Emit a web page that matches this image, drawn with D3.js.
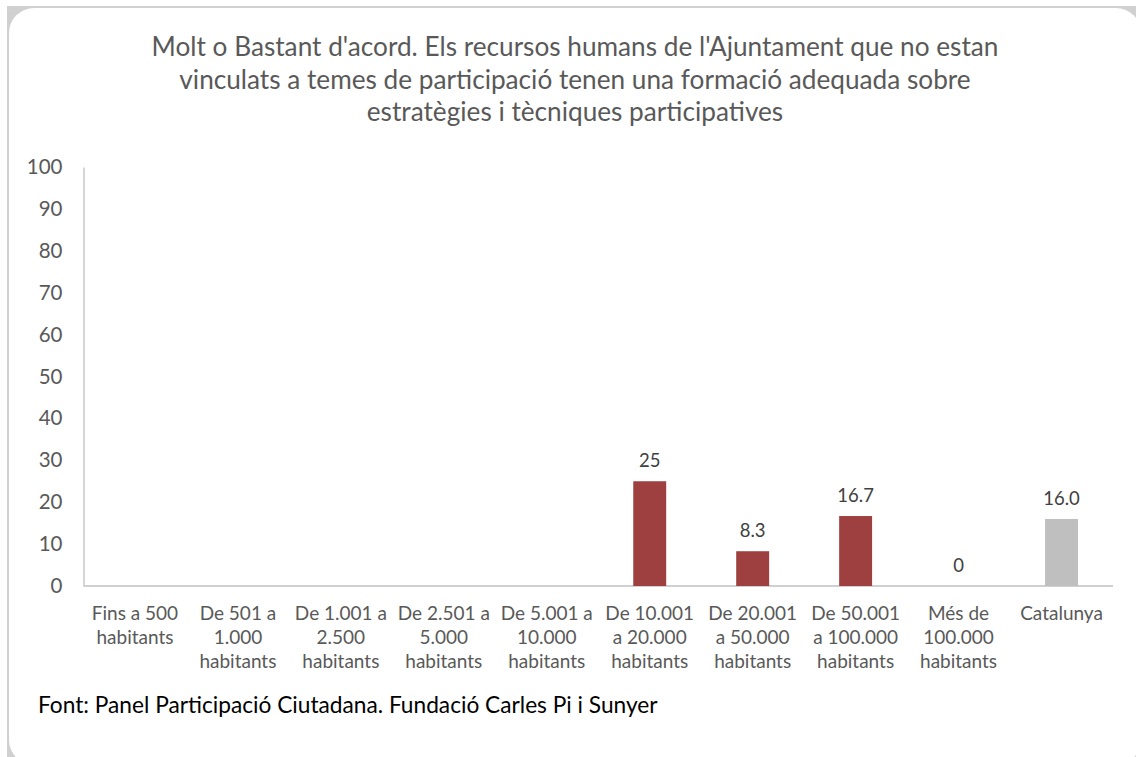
<!DOCTYPE html>
<html>
<head>
<meta charset="utf-8">
<script src="https://cdn.jsdelivr.net/npm/d3@7"></script>
<style>
  body { margin: 0; background: #fff; }
  svg { display: block; font-family: Lato, "Open Sans", sans-serif; }
</style>
</head>
<body>
<div id="chart"></div>
<script>
// data
const categories = [
  ['Fins a 500', 'habitants'],
  ['De 501 a', '1.000', 'habitants'],
  ['De 1.001 a', '2.500', 'habitants'],
  ['De 2.501 a', '5.000', 'habitants'],
  ['De 5.001 a', '10.000', 'habitants'],
  ['De 10.001', 'a 20.000', 'habitants'],
  ['De 20.001', 'a 50.000', 'habitants'],
  ['De 50.001', 'a 100.000', 'habitants'],
  ['Més de', '100.000', 'habitants'],
  ['Catalunya']
];
const values = [null, null, null, null, null, 25, 8.3, 16.7, 0, 16.0];
const valueLabels = ['', '', '', '', '', '25', '8.3', '16.7', '0', '16.0'];
const yTicks = [0, 10, 20, 30, 40, 50, 60, 70, 80, 90, 100];
const titleLines = [
  "Molt o Bastant d'acord. Els recursos humans de l'Ajuntament que no estan",
  "vinculats a temes de participació tenen una formació adequada sobre",
  "estratègies i tècniques participatives"
];
const source = 'Font: Panel Participació Ciutadana. Fundació Carles Pi i Sunyer';

const width = 1136, height = 757;
const plot = { left: 83.5, right: 1113, top: 167, bottom: 586 };

const svg = d3.select('#chart').append('svg')
  .attr('width', width)
  .attr('height', height);

// frame: grey corners, thin grey edge
svg.append('rect')
  .attr('x', 7).attr('y', 6)
  .attr('width', width - 7).attr('height', height - 6)
  .attr('fill', '#d0d0d0');
svg.append('rect')
  .attr('x', 9).attr('y', 8)
  .attr('width', 1132).attr('height', 757)
  .attr('rx', 25).attr('ry', 25)
  .attr('fill', '#fff');

// title
svg.append('text')
  .attr('text-anchor', 'middle')
  .attr('fill', '#595959')
  .style('font-size', '26.2px')
  .selectAll('tspan')
  .data(titleLines)
  .join('tspan')
  .attr('x', 575)
  .attr('y', (d, i) => 56 + i * 32.5)
  .text(d => d);

const x = d3.scaleBand()
  .domain(d3.range(categories.length))
  .range([plot.left, plot.right])
  .paddingInner(0.68)
  .paddingOuter(0.34);

const y = d3.scaleLinear()
  .domain([0, 100])
  .range([plot.bottom, plot.top]);

// y axis
const yAxis = svg.append('g')
  .attr('transform', `translate(${plot.left},0)`)
  .call(d3.axisLeft(y).tickValues(yTicks).tickSize(0).tickPadding(21));
yAxis.select('.domain').attr('stroke', '#c8c8c8').attr('stroke-width', 1.5);
yAxis.selectAll('text')
  .attr('fill', '#595959')
  .style('font-size', '20.5px')
  .style('font-family', 'Lato, sans-serif');

// x baseline
svg.append('line')
  .attr('x1', plot.left).attr('x2', plot.right)
  .attr('y1', y(0)).attr('y2', y(0))
  .attr('stroke', '#d0d0d0')
  .attr('stroke-width', 2);

// bars
const data = values.map((v, i) => ({ i, v, label: valueLabels[i] }));
svg.append('g').selectAll('rect')
  .data(data.filter(d => d.v !== null))
  .join('rect')
  .attr('x', d => x(d.i))
  .attr('y', d => y(d.v))
  .attr('width', x.bandwidth())
  .attr('height', d => y(0) - y(d.v))
  .attr('fill', d => d.i === categories.length - 1 ? '#bfbfbf' : '#9e4040');

// value labels
svg.append('g').selectAll('text')
  .data(data.filter(d => d.v !== null))
  .join('text')
  .attr('x', d => x(d.i) + x.bandwidth() / 2)
  .attr('y', d => y(d.v) - 14)
  .attr('text-anchor', 'middle')
  .attr('fill', '#404040')
  .style('font-size', '18.5px')
  .text(d => d.label);

// category labels
svg.append('g').selectAll('text')
  .data(categories)
  .join('text')
  .attr('text-anchor', 'middle')
  .attr('fill', '#595959')
  .style('font-size', '19px')
  .each(function (lines, i) {
    d3.select(this).selectAll('tspan')
      .data(lines)
      .join('tspan')
      .attr('x', x(i) + x.bandwidth() / 2)
      .attr('y', (d, k) => 620 + k * 24)
      .text(d => d);
  });

// source
svg.append('text')
  .attr('x', 38)
  .attr('y', 713)
  .attr('fill', '#000')
  .style('font-size', '22.7px')
  .text(source);
</script>
</body>
</html>
